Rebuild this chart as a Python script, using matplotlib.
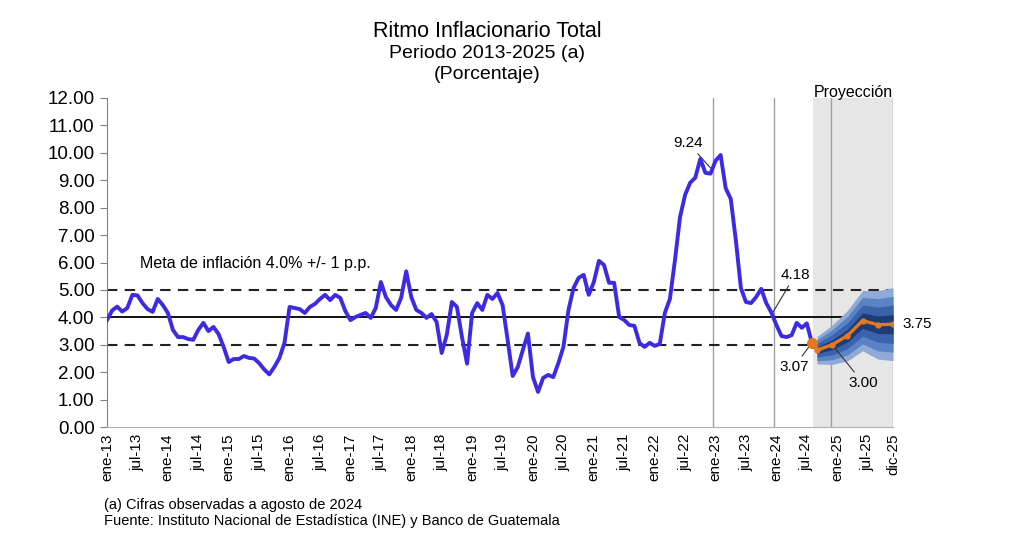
import numpy as np
import matplotlib.pyplot as plt

plt.rcParams['font.family'] = ['Liberation Sans', 'DejaVu Sans']

meses = ['ene', 'feb', 'mar', 'abr', 'may', 'jun', 'jul', 'ago', 'sep', 'oct', 'nov', 'dic']
categorias = [m + '-' + str(a) for a in range(13, 26) for m in meses]

# ritmo inflacionario observado, ene-13 a ago-24
observado = [
    3.90, 4.25, 4.39, 4.21, 4.34, 4.82, 4.80, 4.52, 4.30, 4.20, 4.67, 4.45,  # 2013
    4.16, 3.54, 3.28, 3.28, 3.21, 3.18, 3.54, 3.80, 3.50, 3.65, 3.39, 2.92,  # 2014
    2.37, 2.48, 2.48, 2.59, 2.52, 2.50, 2.33, 2.10, 1.92, 2.19, 2.52, 3.07,  # 2015
    4.38, 4.34, 4.30, 4.16, 4.38, 4.49, 4.67, 4.82, 4.63, 4.82, 4.71, 4.23,  # 2016
    3.90, 4.01, 4.09, 4.16, 3.98, 4.34, 5.29, 4.74, 4.45, 4.27, 4.71, 5.68,  # 2017
    4.74, 4.27, 4.16, 3.98, 4.12, 3.83, 2.70, 3.36, 4.56, 4.38, 3.28, 2.31,  # 2018
    4.16, 4.52, 4.27, 4.82, 4.67, 4.89, 4.45, 3.18, 1.86, 2.19, 2.81, 3.41,  # 2019
    1.82, 1.28, 1.79, 1.90, 1.82, 2.33, 2.92, 4.27, 5.07, 5.44, 5.55, 4.82,  # 2020
    5.29, 6.06, 5.91, 5.26, 5.26, 4.01, 3.90, 3.72, 3.69, 3.07, 2.92, 3.07,  # 2021
    2.96, 3.03, 4.16, 4.67, 6.09, 7.66, 8.47, 8.91, 9.09, 9.78, 9.27, 9.24,  # 2022
    9.71, 9.92, 8.71, 8.32, 6.82, 5.07, 4.56, 4.52, 4.74, 5.04, 4.52, 4.18,  # 2023
    3.72, 3.32, 3.28, 3.35, 3.80, 3.62, 3.78, 3.07,                          # 2024
]

# proyeccion (trimestral)
proy_meses = ['ago-24', 'sep-24', 'dic-24', 'mar-25', 'jun-25', 'sep-25', 'dic-25']
proy_valores = [3.07, 2.80, 3.00, 3.33, 3.88, 3.73, 3.75]

# abanico: semi-amplitud de cada banda (sep-24 ... dic-25)
banda_1 = [0.12, 0.18, 0.23, 0.28, 0.32, 0.35]
banda_2 = [0.25, 0.37, 0.47, 0.57, 0.64, 0.70]
banda_3 = [0.38, 0.55, 0.70, 0.85, 0.95, 1.02]
banda_4 = [0.50, 0.72, 0.92, 1.10, 1.25, 1.33]

etiquetas_x = [m + '-' + str(a) for a in range(13, 26) for m in ['ene', 'jul']] + ['dic-25']
meta = 4.0

x_obs = np.arange(len(observado))
x_proy = np.array([categorias.index(m) for m in proy_meses])
x_fan = x_proy[1:]
c_fan = np.array(proy_valores[1:])

fig = plt.figure(figsize=(10.24, 5.53), dpi=100)
ax = fig.add_axes([0.1045, 0.2278, 0.7676, 0.595])

# zona de proyeccion
ax.axvspan(139.2, 155, color='#e6e6e6', zorder=0, lw=0)
for xv in [119.5, 131.5, 142.8, 155]:
    ax.axvline(xv, color='#a0a0a0', lw=1.0, zorder=1)

ax.axhline(meta, xmax=0.99, color='black', lw=1.3, zorder=2)
ax.axhline(meta + 1, color='#222222', lw=1.5, ls=(0, (5, 3.5)), zorder=2)
ax.axhline(meta - 1, color='#222222', lw=1.5, ls=(0, (5, 3.5)), zorder=2)

colores = ['#8eaad6', '#5b82c4', '#3b63ad', '#1e3b74']
for banda, col in zip([banda_4, banda_3, banda_2, banda_1], colores):
    b = np.array(banda)
    ax.fill_between(x_fan, c_fan - b, c_fan + b, color=col, lw=0, zorder=3)

ax.plot(x_obs, observado, color='#3d2ae3', lw=2.8, zorder=5, solid_joinstyle='round')
ax.plot(x_proy, proy_valores, color='#e5781f', lw=2.4, marker='o', ms=3.5, zorder=6)
ax.plot(x_proy[:1], proy_valores[:1], 'o', color='#e5781f', ms=7, zorder=7)

ax.set_xlim(0, 155)
ax.set_ylim(0, 12)
ax.set_yticks(np.arange(0, 13, 1))
ax.set_yticklabels(['%.2f' % v for v in np.arange(0, 13, 1)], fontsize=13.5)
ax.set_xticks([categorias.index(e) for e in etiquetas_x])
ax.set_xticklabels(etiquetas_x, rotation=90, fontsize=11)
ax.tick_params(axis='x', length=0, pad=5)
ax.tick_params(axis='y', length=5, color='#808080', pad=4)
for s in ['top', 'right']:
    ax.spines[s].set_visible(False)
ax.spines['left'].set_color('#808080')
ax.spines['bottom'].set_color('#b0b0b0')

ap = dict(arrowstyle='-', color='#333333', lw=0.8, shrinkA=1, shrinkB=0)
ax.annotate('9.24', xy=(119, 9.45), xytext=(114.6, 10.36), ha='center', va='center',
            fontsize=11, arrowprops=ap)
ax.annotate('4.18', xy=(131.3, 4.18), xytext=(135.7, 5.55), ha='center', va='center',
            fontsize=11, arrowprops=ap)
ax.annotate('3.07', xy=(139, 3.07), xytext=(135.5, 2.19), ha='center', va='center',
            fontsize=11, arrowprops=ap)
ax.annotate('3.00', xy=(143, 3.0), xytext=(149.1, 1.61), ha='center', va='center',
            fontsize=11, arrowprops=ap)
ax.annotate('3.75', xy=(155, 3.75), xytext=(7, 0), textcoords='offset points',
            ha='left', va='center', fontsize=11, annotation_clip=False)
ax.text(6.5, 5.98, 'Meta de inflación 4.0% +/- 1 p.p.', fontsize=11.5, va='center')
ax.text(147.2, 12.2, 'Proyección', fontsize=11.5, ha='center', va='center', clip_on=False)

fig.text(0.476, 0.943, 'Ritmo Inflacionario Total', ha='center', va='center', fontsize=15.5)
fig.text(0.476, 0.903, 'Periodo 2013-2025 (a)', ha='center', va='center', fontsize=14)
fig.text(0.476, 0.865, '(Porcentaje)', ha='center', va='center', fontsize=14)

fig.text(0.102, 0.086, '(a) Cifras observadas a agosto de 2024', fontsize=10.5, va='center')
fig.text(0.102, 0.057, 'Fuente: Instituto Nacional de Estadística (INE) y Banco de Guatemala',
         fontsize=10.5, va='center')

fig.savefig('out.png', dpi=100)
